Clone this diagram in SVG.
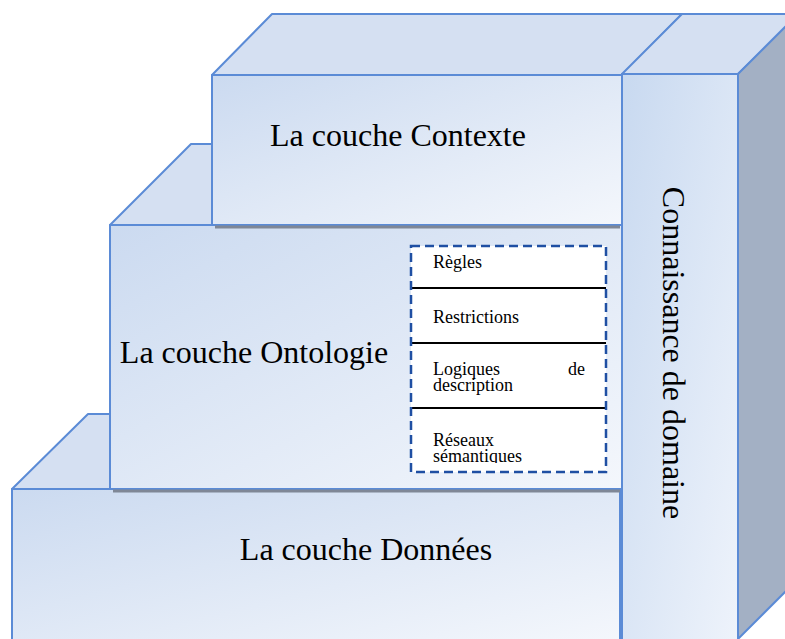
<svg xmlns="http://www.w3.org/2000/svg" width="785" height="639" viewBox="0 0 785 639">
<defs>
<linearGradient id="gf" x1="0" y1="0" x2="1" y2="1">
<stop offset="0" stop-color="#CBDAF0"/>
<stop offset="1" stop-color="#F4F7FC"/>
</linearGradient>
<linearGradient id="gd" x1="0" y1="0" x2="1" y2="1">
<stop offset="0" stop-color="#C8D9F0"/>
<stop offset="1" stop-color="#EEF3FB"/>
</linearGradient>
<clipPath id="cl"><rect x="411" y="246" width="195" height="217"/></clipPath>
<style>
.face{fill:url(#gf);stroke:#5B8BD6;stroke-width:2;stroke-linejoin:round}
.top{fill:#D5E0F2;stroke:#5B8BD6;stroke-width:2;stroke-linejoin:round}
.side{fill:#A3B0C4;stroke:#5B8BD6;stroke-width:2;stroke-linejoin:round}
.big{font-family:"Liberation Serif",serif;font-size:32px;fill:#000}
.small{font-family:"Liberation Serif",serif;font-size:18px;fill:#000}
.sep{stroke:#000;stroke-width:2}
.shadow{stroke:#7F8796;stroke-width:3}
</style>
</defs>
<g id="data">
<polygon class="top" points="12,489 88,414 110,414 110,489"/>
<rect class="face" x="12" y="489" width="608" height="152"/>
<text class="big" x="366" y="560" text-anchor="middle">La couche Données</text>
</g>
<g id="ontologie">
<polygon class="top" points="110,225 191,144 212,144 212,225"/>
<rect class="face" x="110" y="225" width="512" height="264"/>
<line class="shadow" x1="113" y1="491" x2="620" y2="491"/>
<text class="big" x="254" y="363" text-anchor="middle">La couche Ontologie</text>
</g>
<g id="contexte">
<polygon class="top" points="212,75 272,14 682,14 622,75"/>
<rect class="face" x="212" y="75" width="410" height="150"/>
<line class="shadow" x1="215" y1="227" x2="620" y2="227"/>
<text class="big" x="398" y="146" text-anchor="middle">La couche Contexte</text>
</g>
<g id="domaine">
<polygon class="top" points="622,74 682,14 800,14 738,74"/>
<polygon class="side" points="738,74 800,12 800,577 738,639"/>
<rect x="622" y="74" width="116" height="570" fill="url(#gd)" stroke="#5B8BD6" stroke-width="2"/>
<text class="big" transform="translate(663,353) rotate(90)" text-anchor="middle">Connaissance de domaine</text>
</g>
<g id="liste">
<rect x="411" y="246" width="195" height="226" fill="#FFFFFF"/>
<line class="sep" x1="411" y1="288" x2="606" y2="288"/>
<line class="sep" x1="411" y1="343" x2="606" y2="343"/>
<line class="sep" x1="411" y1="408" x2="606" y2="408"/>
<g clip-path="url(#cl)">
<text class="small" x="433" y="268">Règles</text>
<text class="small" x="433" y="323">Restrictions</text>
<text class="small" x="433" y="375">Logiques</text>
<text class="small" x="585" y="375" text-anchor="end">de</text>
<text class="small" x="433" y="391">description</text>
<text class="small" x="433" y="446">Réseaux</text>
<text class="small" x="433" y="462">sémantiques</text>
</g>
<rect x="411" y="246" width="195" height="226" fill="none" stroke="#1F4FA3" stroke-width="2.5" stroke-dasharray="9,5"/>
</g>
</svg>
